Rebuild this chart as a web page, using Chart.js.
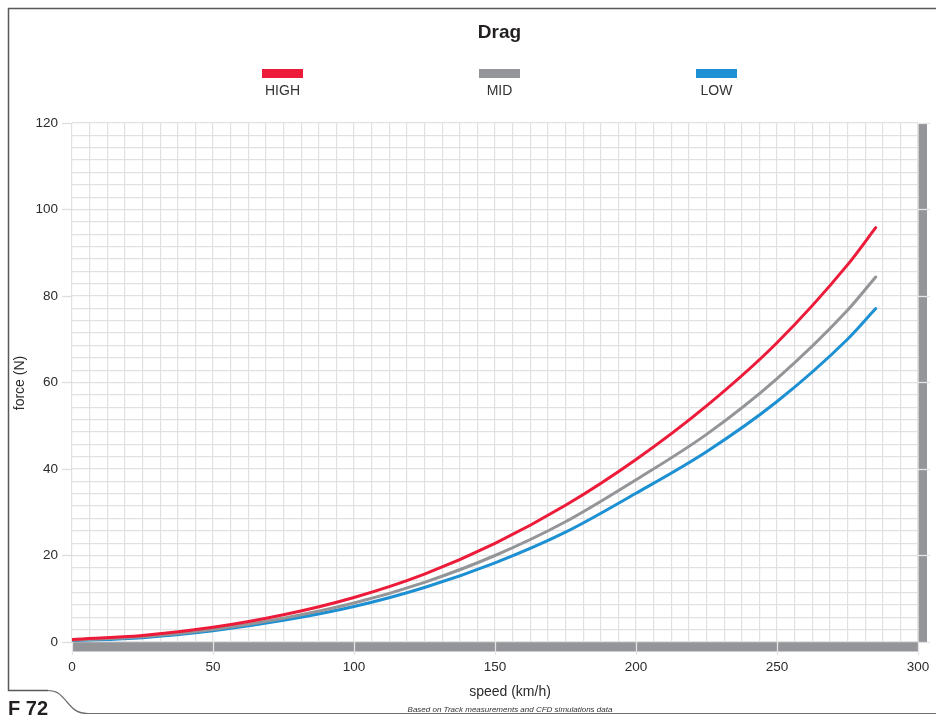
<!DOCTYPE html>
<html>
<head>
<meta charset="utf-8">
<title>Drag</title>
<script src="https://cdn.jsdelivr.net/npm/chart.js@4.4.1/dist/chart.umd.min.js"></script>
<style>
  body { margin: 0; background: #fff; font-family: "Liberation Sans", Arial, sans-serif; color: #2b2b2b; }
  #sheet { position: relative; width: 936px; height: 715px; overflow: hidden; }
  #frame { position: absolute; left: 0; top: 0; }
  #chart-box { position: absolute; left: 0; top: 0; width: 936px; height: 715px; }
  .title { position: absolute; left: 400px; width: 199px; top: 22px; text-align: center;
           font-weight: bold; font-size: 19px; line-height: 19px; color: #231f20; }
  #legend { position: absolute; left: 174px; top: 69px; width: 651px; display: flex; }
  .legend-item { flex: 1; text-align: center; }
  .legend-item .swatch { width: 41px; height: 9px; margin: 0 auto; }
  .legend-item span { display: block; margin-top: 5px; font-size: 14px; line-height: 14px; color: #333; }
  .y-title { position: absolute; left: -31px; top: 375px; width: 100px; height: 16px; line-height: 16px;
             text-align: center; font-size: 14px; transform: rotate(-90deg); }
  .x-title { position: absolute; left: 430px; width: 160px; top: 684px; text-align: center;
             font-size: 14px; line-height: 14px; }
  .note { position: absolute; left: 360px; width: 300px; top: 706px; text-align: center;
          font-size: 8px; line-height: 8px; font-style: italic; color: #333; }
  .tab { position: absolute; left: 8px; top: 698px; font-weight: bold; font-size: 20px; line-height: 20px; color: #231f20; }
</style>
</head>
<body>
<div id="sheet">
  <svg id="frame" width="936" height="715">
    <path d="M936 8.5 H8.5 V690.5 H48" fill="none" stroke="#58595b" stroke-width="1.5"/>
    <path d="M48 690.5 C58 690.5 61 695 67 702 C73 709 77 713.5 88 713.5 H936" fill="none" stroke="#6d6e71" stroke-width="1.2"/>
  </svg>
  <div id="chart-box"><canvas id="dragChart"></canvas></div>
  <div class="title">Drag</div>
  <div id="legend"></div>
  <div class="y-title">force (N)</div>
  <div class="x-title">speed (km/h)</div>
  <div class="note">Based on Track measurements and CFD simulations data</div>
  <div class="tab">F 72</div>
</div>

<script>
// Drag curves
const speeds   = [0, 25, 50, 75, 100, 125, 150, 175, 200, 225, 250, 275, 285];
const dragHigh = [0.6, 1.5, 3.4, 6.3, 10.3, 15.7, 22.8, 31.6, 42.2, 54.6, 69.2, 87.2, 95.8];
const dragMid  = [0.4, 1.2, 2.9, 5.5, 9.0, 13.8, 20.0, 27.8, 37.5, 48.0, 60.9, 76.7, 84.4];
const dragLow  = [0.3, 1.0, 2.6, 5.0, 8.2, 12.6, 18.3, 25.4, 34.4, 44.0, 55.6, 70.0, 77.1];

const seriesNames  = ['HIGH', 'MID', 'LOW'];
const seriesColors = ['#ed1b3a', '#939598', '#1c90d2'];

const xTicks = [0, 50, 100, 150, 200, 250, 300];
const yTicks = [0, 20, 40, 60, 80, 100, 120];

// graph paper steps
const xGridStep = 6.25;
const yGridStep = 20 / 7;

const FONT = '"Liberation Sans", Arial, sans-serif';
const GRID = '#e1e1e1';

Chart.defaults.font.family = FONT;
Chart.defaults.color = '#2b2b2b';

// Grey rails under the x axis and right of the plot
const railBars = {
    id: 'railBars',
    beforeDraw(chart) {
        let ctx = chart.ctx;
        let a = chart.chartArea;
        ctx.save();
        ctx.fillStyle = '#939598';
        ctx.fillRect(a.left, a.bottom, a.right - a.left, 9.5);
        ctx.fillRect(a.right + 0.5, a.top, 8.5, a.bottom - a.top);
        ctx.restore();
    }
};

function points(values) {
    return values.map((v, i) => ({x: speeds[i], y: v}));
}

function fixedTicks(list) {
    return function(scale) {
        scale.ticks = list.map(v => ({value: v}));
    };
}

// HTML legend: swatch above the name
function buildLegend() {
    let box = document.getElementById('legend');
    seriesNames.forEach(function(name, i) {
        box.insertAdjacentHTML('beforeend',
            `<div class="legend-item"><div class="swatch" style="background:${seriesColors[i]}"></div><span>${name}</span></div>`);
    });
}

function setupChart() {
    let data = [dragHigh, dragMid, dragLow];
    let ctx = document.getElementById('dragChart').getContext('2d');

    new Chart(ctx, {
        type: 'line',
        data: {
            datasets: seriesNames.map((name, i) => ({
                label: name,
                data: points(data[i]),
                borderColor: seriesColors[i],
                backgroundColor: seriesColors[i],
                borderWidth: 3,
                borderCapStyle: 'round',
                pointRadius: 0,
                cubicInterpolationMode: 'monotone',
                fill: false
            }))
        },
        options: {
            responsive: true,
            maintainAspectRatio: false,
            animation: false,
            layout: { padding: { left: 8, right: 0, top: 123, bottom: 33 } },
            plugins: {
                legend: { display: false },
                tooltip: { enabled: false }
            },
            scales: {
                x: {
                    type: 'linear', position: 'bottom', min: 0, max: 300,
                    afterBuildTicks: fixedTicks(xTicks),
                    afterFit: s => { s.height = 40; },
                    border: { display: false },
                    grid: { drawOnChartArea: false, tickLength: 13, tickColor: '#e4e4e4', tickWidth: 1.3 },
                    ticks: { padding: 4, color: '#2b2b2b', font: { size: 13.5 } }
                },
                xg: {
                    type: 'linear', position: 'bottom', min: 0, max: 300,
                    afterFit: s => { s.height = 0; },
                    border: { display: false },
                    grid: { color: GRID, lineWidth: 1.2, drawTicks: false },
                    ticks: { display: false, stepSize: xGridStep, maxTicksLimit: 200, autoSkip: false }
                },
                y: {
                    type: 'linear', position: 'left', min: 0, max: 120,
                    afterBuildTicks: fixedTicks(yTicks),
                    afterFit: s => { s.width = 64; },
                    border: { display: false },
                    grid: { drawOnChartArea: false, tickLength: 10, tickColor: '#dedede', tickWidth: 1.3 },
                    ticks: { padding: 4, color: '#2b2b2b', font: { size: 13.5 } }
                },
                yg: {
                    type: 'linear', position: 'left', min: 0, max: 120,
                    afterFit: s => { s.width = 0; },
                    border: { display: false },
                    grid: { color: GRID, lineWidth: 1.2, drawTicks: false },
                    ticks: { display: false, stepSize: yGridStep, maxTicksLimit: 200, autoSkip: false }
                },
                y2: {
                    type: 'linear', position: 'right', min: 0, max: 120,
                    afterBuildTicks: fixedTicks(yTicks),
                    afterFit: s => { s.width = 18; },
                    border: { display: false },
                    grid: { drawOnChartArea: false, tickLength: 12, tickColor: '#e4e4e4', tickWidth: 1.3 },
                    ticks: { display: false }
                }
            }
        },
        plugins: [railBars]
    });
}

buildLegend();
setupChart();
</script>
</body>
</html>
